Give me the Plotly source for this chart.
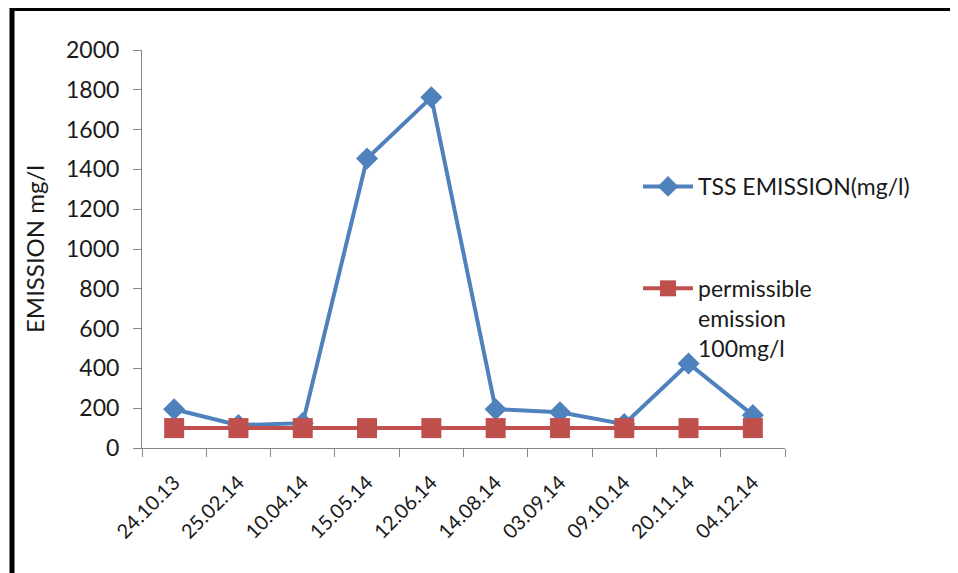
import plotly.graph_objects as go

dates = ["24.10.13", "25.02.14", "10.04.14", "15.05.14", "12.06.14",
         "14.08.14", "03.09.14", "09.10.14", "20.11.14", "04.12.14"]
tss = [195, 115, 125, 1455, 1762, 195, 180, 120, 425, 165]
permissible = [100, 100, 100, 100, 100, 100, 100, 100, 100, 100]
y_ticks = [0, 200, 400, 600, 800, 1000, 1200, 1400, 1600, 1800, 2000]

FONT = "Lato, 'Open Sans', Arial, sans-serif"

# page body has an 8px margin, so the figure is offset by 8px
OFF = 8
L, T, R, B = 142 - OFF, 50 - OFF, 785 - OFF, 448 - OFF
W, H = 643, 398

fig = go.Figure()
fig.add_trace(go.Scatter(
    x=dates, y=tss, mode="lines+markers", name="TSS EMISSION(mg/l)",
    line=dict(color="#4F81BD", width=4),
    marker=dict(symbol="diamond", size=17, color="#4F81BD"),
    legendgroup="a"))
fig.add_trace(go.Scatter(
    x=dates, y=permissible, mode="lines+markers",
    name="permissible<br>emission<br>100mg/l",
    line=dict(color="#C0504D", width=4),
    marker=dict(symbol="square", size=20, color="#C0504D"),
    legendgroup="b"))

fig.update_layout(
    width=958, height=573,
    margin=dict(l=L, r=958 - R, t=T, b=573 - B, autoexpand=False),
    paper_bgcolor="white", plot_bgcolor="white",
    font=dict(family=FONT, size=17, color="#1a1a1a"),
    showlegend=True,
    legend=dict(x=(643 - 5 - 142) / W, y=(448 - 165) / H, xanchor="left", yanchor="top",
                font=dict(size=23, family=FONT), tracegroupgap=69, valign="top",
                bgcolor="rgba(0,0,0,0)", itemwidth=50),
    xaxis=dict(type="category", showline=True, linecolor="#868686", linewidth=1,
               ticks="outside", tickson="boundaries", ticklen=8, tickcolor="#868686",
               tickangle=-45, tickfont=dict(size=20), showgrid=False,
               ticklabelstandoff=14,
               range=[-0.5, 9.5], automargin=False),
    yaxis=dict(range=[0, 2000], tickvals=y_ticks, showline=True, linecolor="#868686",
               linewidth=1, ticks="outside", ticklen=8, tickcolor="#868686",
               showgrid=False, zeroline=False, tickfont=dict(size=23), automargin=False,
               ticklabelstandoff=9,
               title=dict(text="EMISSION mg/l", font=dict(size=24), standoff=14)),
    shapes=[dict(type="rect", xref="paper", yref="paper",
                 x0=(12 - 142) / W, x1=1.6, y0=-0.6, y1=(448 - 8.5) / H,
                 line=dict(color="black", width=5))],
)

fig.write_html("out.html")
